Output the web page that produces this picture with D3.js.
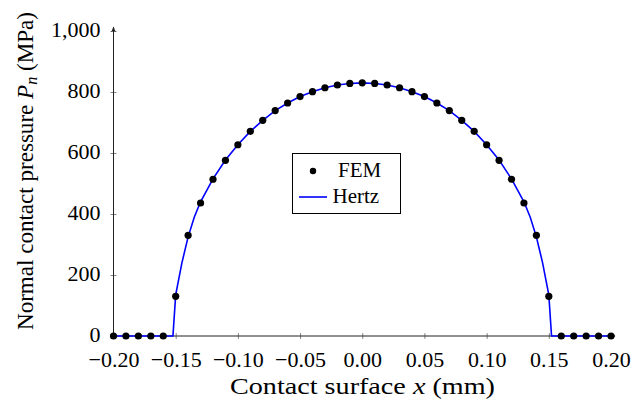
<!DOCTYPE html>
<html>
<head>
<meta charset="utf-8">
<script src="https://cdn.jsdelivr.net/npm/d3@7"></script>
<style>
  body { margin: 0; background: #fff; }
  svg text { font-family: "Liberation Serif", "DejaVu Serif", serif !important; }
</style>
</head>
<body>
<div id="graph"></div>
<script>

// FEM nodes, x in mm
var femX = [-0.20, -0.19, -0.18, -0.17, -0.16, -0.15, -0.14, -0.13, -0.12, -0.11,
            -0.10, -0.09, -0.08, -0.07, -0.06, -0.05, -0.04, -0.03, -0.02, -0.01,
             0.00,  0.01,  0.02,  0.03,  0.04,  0.05,  0.06,  0.07,  0.08,  0.09,
             0.10,  0.11,  0.12,  0.13,  0.14,  0.15,  0.16,  0.17,  0.18,  0.19, 0.20];
// FEM pressure, MPa
var femP = [0, 0, 0, 0, 0, 130, 330, 436, 514, 576,
            627, 671, 707, 739, 764, 785, 801, 814, 823, 828,
            830, 828, 823, 814, 801, 785, 764, 739, 707, 671,
            627, 576, 514, 436, 330, 130, 0, 0, 0, 0, 0];

// Hertz curve
var hertzX = [-0.20, -0.1522, -0.15, -0.145, -0.14, -0.135, -0.13, -0.12, -0.11, -0.10,
              -0.09, -0.08, -0.07, -0.06, -0.05, -0.04, -0.03, -0.02, -0.01, 0.00,
               0.01, 0.02, 0.03, 0.04, 0.05, 0.06, 0.07, 0.08, 0.09, 0.10,
               0.11, 0.12, 0.13, 0.135, 0.14, 0.145, 0.15, 0.1522, 0.20];
var hertzP = [0, 0, 135, 240, 325, 390, 440, 515, 577, 627,
              671, 707, 739, 764, 785, 801, 814, 823, 828, 830,
              828, 823, 814, 801, 785, 764, 739, 707, 671, 627,
              577, 515, 440, 390, 325, 240, 135, 0, 0];

var xTicks = [-0.20, -0.15, -0.10, -0.05, 0.00, 0.05, 0.10, 0.15, 0.20];
var yTicks = [0, 200, 400, 600, 800, 1000];

var margin = {top: 31, right: 23, bottom: 73, left: 113.5};
var width = 634 - margin.left - margin.right;
var height = 409 - margin.top - margin.bottom;
var serif = "'Liberation Serif', 'DejaVu Serif', serif";

var svg = d3.select('#graph')
  .append('svg')
    .attr("width", 634)
    .attr("height", 409)
    .style("font-family", serif)
  .append("g")
    .attr("transform", "translate(" + margin.left + "," + margin.top + ")");

var x = d3.scaleLinear()
    .domain([-0.2, 0.2])
    .range([0, 497.5]);

var y = d3.scaleLinear()
    .domain([0, 1000])
    .range([height, 0]);

var fmtX = function(d) { return d3.format(".2f")(d).replace("-", "\u2212"); };

// X axis
var xAxis = svg.append("g")
    .attr("transform", "translate(0," + height + ")")
    .call(d3.axisBottom(x).tickValues(xTicks).tickFormat(fmtX).tickSize(0).tickPadding(15));
xAxis.attr("font-family", null).attr("font-size", null);
xAxis.select(".domain").remove();
xAxis.selectAll(".tick text")
    .style("font-family", serif)
    .style("font-size", "22px");
xAxis.selectAll(".tick").append("line")
    .attr("y1", -3).attr("y2", 3)
    .attr("stroke", "#888").attr("stroke-width", 1);

// Y axis
var yAxis = svg.append("g")
    .call(d3.axisLeft(y).tickValues(yTicks).tickFormat(d3.format(",")).tickSize(0).tickPadding(13));
yAxis.attr("font-family", null).attr("font-size", null);
yAxis.select(".domain").remove();
yAxis.selectAll(".tick text")
    .attr("dy", "0.25em")
    .style("font-family", serif)
    .style("font-size", "22px");
yAxis.selectAll(".tick").append("line")
    .attr("x1", -3).attr("x2", 3)
    .attr("stroke", "#888").attr("stroke-width", 1);

// axis lines with arrow heads
svg.append("defs").append("marker")
    .attr("id", "arrow")
    .attr("viewBox", "0 0 10 10")
    .attr("refX", 9).attr("refY", 5)
    .attr("markerWidth", 6).attr("markerHeight", 6)
    .attr("orient", "auto")
  .append("path")
    .attr("d", "M0,1 L10,5 L0,9 L3,5 Z")
    .attr("fill", "#222");

svg.append("line")
    .attr("x1", 0).attr("y1", height)
    .attr("x2", 0).attr("y2", y(1000) - 4)
    .attr("stroke", "#222").attr("stroke-width", 1)
    .attr("marker-end", "url(#arrow)");

svg.append("line")
    .attr("x1", 0).attr("y1", height)
    .attr("x2", x(0.2) + 4).attr("y2", height)
    .attr("stroke", "#222").attr("stroke-width", 1)
    .attr("marker-end", "url(#arrow)");

// Hertz line
var hertz = hertzX.map(function(d, i) { return {x: d, p: hertzP[i]}; });
svg.append("path")
    .datum(hertz)
    .attr("fill", "none")
    .attr("stroke", "#0000ff")
    .attr("stroke-width", 1.6)
    .attr("d", d3.line()
      .x(function(d) { return x(d.x) })
      .y(function(d) { return y(d.p) })
    );

// FEM points
var fem = femX.map(function(d, i) { return {x: d, p: femP[i]}; });
svg.selectAll(".fem")
    .data(fem)
  .enter().append("circle")
    .attr("class", "fem")
    .attr("cx", function(d) { return x(d.x) })
    .attr("cy", function(d) { return y(d.p) })
    .attr("r", 3.6)
    .attr("fill", "#000");

// X axis name
svg.append("text")
    .attr("text-anchor", "middle")
    .attr("x", 249)
    .attr("y", height + 58)
    .style("font-size", "23px")
    .attr("textLength", 265)
    .attr("lengthAdjust", "spacingAndGlyphs")
    .html("Contact surface <tspan font-style='italic'>x</tspan> (mm)");

// Y axis name
svg.append("text")
    .attr("text-anchor", "middle")
    .attr("transform", "translate(" + (33 - margin.left) + "," + (171 - margin.top) + ") rotate(-90)")
    .style("font-size", "24px")
    .attr("textLength", 318)
    .attr("lengthAdjust", "spacingAndGlyphs")
    .html("Normal contact pressure <tspan font-style='italic'>P</tspan><tspan font-style='italic' font-size='17' dy='4'>n</tspan><tspan dy='-4'> (MPa)</tspan>");

// Legend
var lg = svg.append("g")
    .attr("transform", "translate(" + (292.5 - margin.left) + "," + (153.5 - margin.top) + ")");
lg.append("rect")
    .attr("width", 108).attr("height", 60)
    .attr("fill", "#fff").attr("stroke", "#000").attr("stroke-width", 1);
lg.append("circle")
    .attr("cx", 20.5).attr("cy", 17.5).attr("r", 3.2).attr("fill", "#000");
lg.append("text")
    .attr("x", 45.5).attr("y", 23.5)
    .style("font-size", "21px")
    .text("FEM");
lg.append("line")
    .attr("x1", 6.5).attr("x2", 34.5).attr("y1", 43.5).attr("y2", 43.5)
    .attr("stroke", "#0000ff").attr("stroke-width", 1.6);
lg.append("text")
    .attr("x", 40).attr("y", 49.5)
    .style("font-size", "21px")
    .text("Hertz");

</script>
</body>
</html>
